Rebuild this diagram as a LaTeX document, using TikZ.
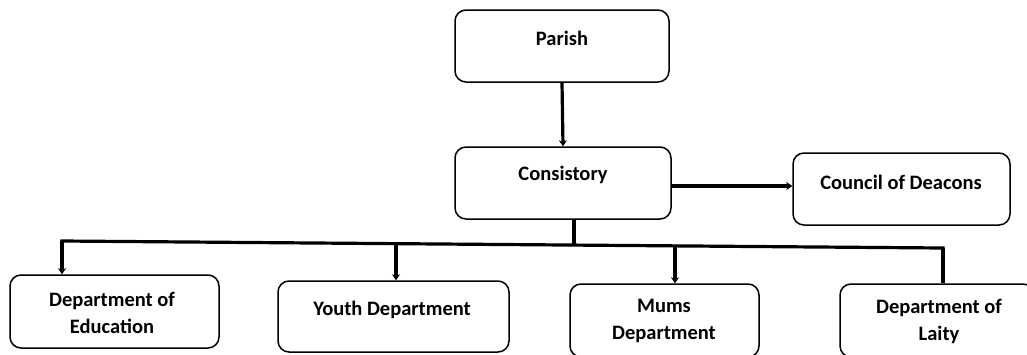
\documentclass[tikz,border=0pt]{standalone}
\usepackage{fontspec}
\setmainfont{Carlito}
\usetikzlibrary{arrows.meta,fit}
\begin{document}
\begin{tikzpicture}[x=1pt,y=-1pt]
\tikzset{
  box/.style={draw, rounded corners=11pt, line width=1.5pt, inner sep=0pt},
  lbl/.style={font=\bfseries\fontsize{20.5}{27}\selectfont, align=center, inner sep=0pt},
  conn/.style={line width=3.2pt},
  arr/.style={conn,-{Stealth[length=6pt,width=8pt]}}
}
\useasboundingbox (0,0) rectangle (1027,354);
% boxes
\node[box, fit={(455,10) (669,82)}] (parish) {};
\node[box, fit={(455,147) (671,219)}] (consistory) {};
\node[box, fit={(793,153) (1010,225)}] (council) {};
\node[box, fit={(10,275) (219,348)}] (edu) {};
\node[box, fit={(278,281) (509,352)}] (youth) {};
\node[box, fit={(570,284) (759,357)}] (mums) {};
\node[box, fit={(840,284) (1034,357)}] (laity) {};
% labels
\node[lbl] (parishT) at (562,38) {Parish};
\node[lbl] (consistoryT) at (563,175) {Consistory};
\node[lbl] (councilT) at (901,182) {Council of Deacons};
\node[lbl] (eduT) at (112,313) {Department of\\Education};
\node[lbl] (youthT) at (392,310) {Youth Department};
\node[lbl] (mumsT) at (664,321) {Mums\\Department};
\node[lbl] (laityT) at (939,321) {Department of\\Laity};
% connectors
\draw[arr] (parish.south) -- (consistory.north);
\coordinate (ce) at ([yshift=-3pt]consistory.east);
\draw[arr] (ce) -- (ce -| council.west);
\coordinate (busL) at (62,241);
\coordinate (busR) at (943,248);
\coordinate (busC) at (574,245);
\coordinate (busY) at (396,243.7);
\coordinate (busM) at (675,245.9);
\draw[conn] (consistory.south -| busC) -- (busC);
\draw[conn, line cap=rect] (busL) -- (busR);
\draw[arr] (busL) -- (busL |- edu.north);
\draw[arr] (busY) -- (busY |- youth.north);
\draw[arr] (busM) -- (busM |- mums.north);
\draw[conn] (busR) -- (busR |- laity.north);
\end{tikzpicture}
\end{document}
